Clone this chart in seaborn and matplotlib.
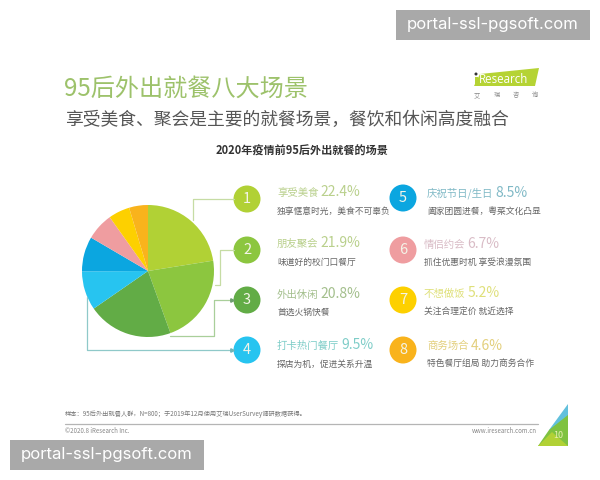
import matplotlib
matplotlib.use("Agg")
import matplotlib.pyplot as plt
import seaborn as sns
from matplotlib.patches import Circle, Polygon, Rectangle

sns.set_theme(style="white")
plt.rcParams["font.family"] = ["Noto Sans CJK SC", "DejaVu Sans"]

# data
scenes = ["享受美食", "朋友聚会", "外出休闲", "打卡热门餐厅", "庆祝节日/生日", "情侣约会", "不想做饭", "商务场合"]
shares = [22.4, 21.9, 20.8, 9.5, 8.5, 6.7, 5.2, 4.6]
notes = [
    "独享惬意时光，美食不可辜负",
    "味道好的校门口餐厅",
    "首选火锅快餐",
    "探店为机，促进关系升温",
    "阖家团圆进餐，粤菜文化凸显",
    "抓住优惠时机 享受浪漫氛围",
    "关注合理定价 就近选择",
    "特色餐厅组局 助力商务合作",
]
palette = sns.color_palette(
    ["#b1d135", "#8cc63f", "#62ac46", "#27c4f0", "#0ba6e0", "#ef9da0", "#fdd000", "#f9b31c"]
)
head_colors = ["#b9d08c", "#b9d08c", "#a3bf8c", "#7fcdc8", "#80b9c6", "#d9bcc6", "#dfe07a", "#e3cf7c"]

W, H = 600, 480
fig = plt.figure(figsize=(W / 100, H / 100), dpi=100, facecolor="white")

# pie axes placed in pixels
cx, cy, r = 148, 271, 66
pie_ax = fig.add_axes([(cx - r) / W, 1 - (cy + r) / H, 2 * r / W, 2 * r / H])
pie_ax.pie(
    shares,
    colors=palette,
    startangle=90,
    counterclock=False,
    radius=1,
    wedgeprops={"linewidth": 0},
)
pie_ax.set_xlim(-1, 1)
pie_ax.set_ylim(-1, 1)

# everything else in pixel coords
ax = fig.add_axes([0, 0, 1, 1], zorder=3)
ax.set_xlim(0, W)
ax.set_ylim(H, 0)
ax.axis("off")
ax.patch.set_alpha(0)

ax.text(64, 89, "95后外出就餐八大场景", fontsize=17.4, color="#9dc26b", va="center")
ax.text(65, 120, "享受美食、聚会是主要的就餐场景，餐饮和休闲高度融合", fontsize=12.8, color="#555555", va="center")
ax.text(302, 151, "2020年疫情前95后外出就餐的场景", fontsize=8, color="#333333", weight="bold", ha="center", va="center")

# logo
ax.add_patch(Polygon([(480, 74), (539, 68), (535, 86), (474, 86)], color="#b5d334", lw=0))
ax.add_patch(Circle((476, 74), 1.5, color="#333333", lw=0))
ax.add_patch(Rectangle((475, 77), 2.5, 9, color="#b5d334", lw=0))
ax.text(479, 79.5, "Research", fontsize=8.3, color="white", va="center", family="Open Sans")
for x, ch in zip([477, 497, 516, 535], "艾瑞咨询"):
    ax.text(x, 95, ch, fontsize=4.5, color="#888888", ha="center", va="center")

# connector lines
line_green = "#c6dca4"
ax.plot([193, 193, 234], [220, 199, 199], color=line_green, lw=0.9)
ax.plot([215, 220, 220, 234], [285, 285, 250, 250], color=line_green, lw=0.9)
ax.plot([170, 214, 214, 232], [336, 336, 300, 300], color="#a9cf9a", lw=0.9)
ax.plot([87, 87, 232], [297, 350, 350], color="#8fc9c9", lw=0.9)
ax.plot([232], [300], marker=">", ms=2.5, color="#6f9f70")
ax.plot([232], [350], marker=">", ms=2.5, color="#6fb5b8")

# numbered rows
bubble_x = [247] * 4 + [403] * 4
bubble_y = [199, 250, 300, 350, 198, 250, 300, 350]
text_x = [277] * 4 + [427, 424, 424, 427]
head_y = [193, 244, 295, 346, 193, 245, 294, 346]
note_y = [211, 262, 312, 364, 211, 262, 311, 363]
for i, (scene, share, note) in enumerate(zip(scenes, shares, notes)):
    ax.add_patch(Circle((bubble_x[i], bubble_y[i]), 13.5, color=palette[i], lw=0))
    ax.text(bubble_x[i], bubble_y[i], str(i + 1), fontsize=10.5, color="#f4f4e8", ha="center", va="center")
    head = ax.text(text_x[i], head_y[i], scene, fontsize=7.5, color=head_colors[i], va="center")
    ax.annotate(
        f"{share}%",
        xy=(1, 0),
        xycoords=head,
        xytext=(1.5, -1),
        textcoords="offset points",
        fontsize=10,
        color=head_colors[i],
        va="bottom",
    )
    ax.text(text_x[i], note_y[i], note, fontsize=6.3, color="#666666", va="center")

# footer
ax.text(65, 414, "样本：95后外出就餐人群，N=800；于2019年12月使用艾瑞UserSurvey调研数据获得。", fontsize=4.5, color="#777777", va="center")
ax.plot([65, 538], [424, 424], color="#b5b5b5", lw=0.9)
ax.text(65, 431, "©2020.8 iResearch Inc.", fontsize=4.4, color="#888888", va="center")
ax.text(537, 431, "www.iresearch.com.cn", fontsize=4.4, color="#888888", ha="right", va="center")

# corner triangles
ax.add_patch(Polygon([(568, 404), (568, 428), (549, 430)], color="#62c0dc", lw=0))
ax.add_patch(Polygon([(549, 430), (568, 415), (568, 446), (538, 446)], color="#7fc241", lw=0))
ax.add_patch(Polygon([(538, 446), (568, 446), (552, 432)], color="#b1d135", lw=0))
ax.text(558, 435, "10", fontsize=6.5, color="#e8efb0", ha="center", va="center")

# stamped banners
ax.add_patch(Rectangle((396, 10), 194, 30, color="#a9a9a9", lw=0))
ax.text(493, 25, "portal-ssl-pgsoft.com", fontsize=12, color="white", ha="center", va="center", family="Inter")
ax.add_patch(Rectangle((10, 440), 194, 30, color="#a9a9a9", lw=0))
ax.text(107, 455, "portal-ssl-pgsoft.com", fontsize=12, color="white", ha="center", va="center", family="Inter")

fig.savefig("out.png", dpi=100)
